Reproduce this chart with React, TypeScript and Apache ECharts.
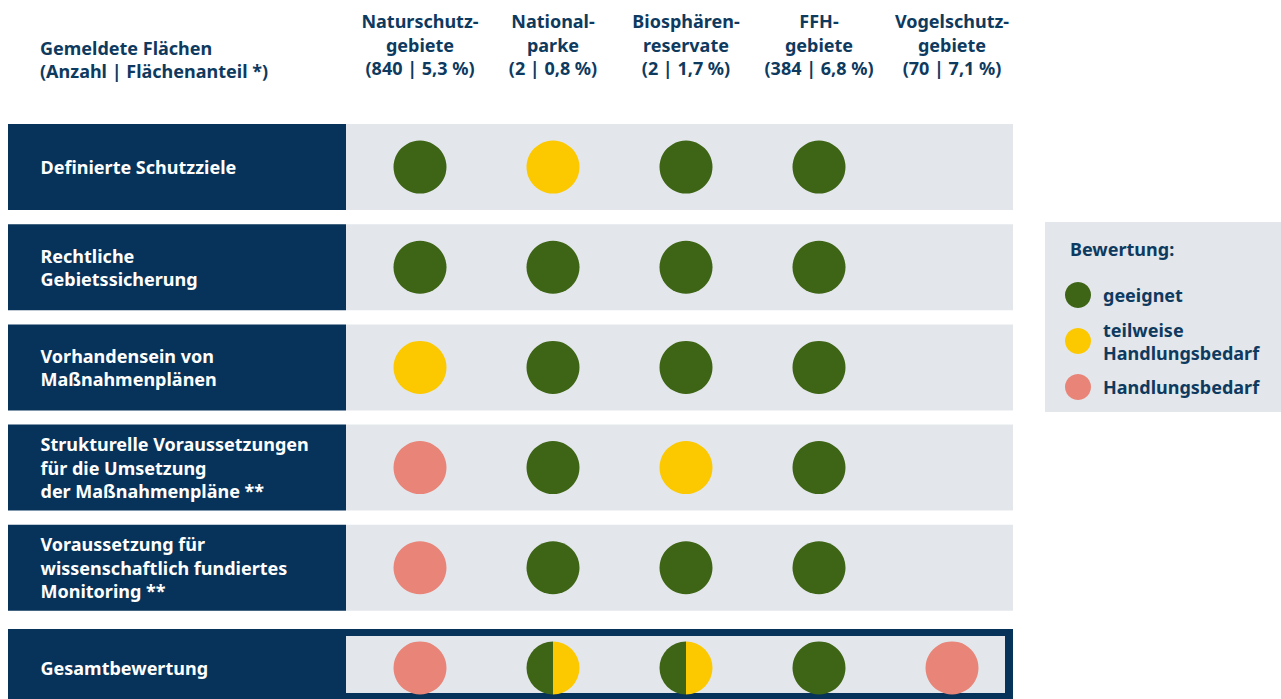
import React, { useEffect, useRef } from "react";
import * as echarts from "echarts";

// Column headers (protected-area types with count | share)
const columns = [
  "Naturschutz-\ngebiete\n(840 | 5,3 %)",
  "National-\nparke\n(2 | 0,8 %)",
  "Biosphären-\nreservate\n(2 | 1,7 %)",
  "FFH-\ngebiete\n(384 | 6,8 %)",
  "Vogelschutz-\ngebiete\n(70 | 7,1 %)",
];

// Row criteria
const criteria = [
  "Definierte Schutzziele",
  "Rechtliche\nGebietssicherung",
  "Vorhandensein von\nMaßnahmenplänen",
  "Strukturelle Voraussetzungen\nfür die Umsetzung\nder Maßnahmenpläne **",
  "Voraussetzung für\nwissenschaftlich fundiertes\nMonitoring **",
  "Gesamtbewertung",
];

const headerTitle = "Gemeldete Flächen\n(Anzahl | Flächenanteil *)";
const legendTitle = "Bewertung:";
const ratingLabels = ["geeignet", "teilweise\nHandlungsbedarf", "Handlungsbedarf"];

// Ratings per row: G = geeignet, T = teilweise Handlungsbedarf, H = Handlungsbedarf,
// GT = half geeignet / half teilweise, "" = not rated
const rowSchutzziele = ["G", "T", "G", "G", ""];
const rowSicherung = ["G", "G", "G", "G", ""];
const rowPlaene = ["T", "G", "G", "G", ""];
const rowStrukturell = ["H", "G", "T", "G", ""];
const rowMonitoring = ["H", "G", "G", "G", ""];
const rowGesamt = ["H", "GT", "GT", "G", "H"];

const ratings = [rowSchutzziele, rowSicherung, rowPlaene, rowStrukturell, rowMonitoring, rowGesamt];

const NAVY = "#07335a";
const TEXT_NAVY = "#0e3a60";
const GREY = "#e3e7eb";
const GREEN = "#3e6415";
const YELLOW = "#fcc800";
const SALMON = "#e88478";
const FONT = "'Noto Sans', sans-serif";
const FS = 18;

function pointsFor(code: string) {
  const out: number[][] = [];
  ratings.forEach((row, r) => row.forEach((v, c) => { if (v === code) out.push([c, r]); }));
  return out;
}

export default function App() {
  const ref = useRef<HTMLDivElement>(null);
  useEffect(() => {
    if (!ref.current) return;
    const chart = echarts.init(ref.current, undefined, { renderer: "svg" });
    const lastRow = criteria.length - 1;

    const option: any = {
      animation: false,
      backgroundColor: "#ffffff",
      textStyle: { fontFamily: FONT },
      grid: { left: 353.5, top: 117, width: 665, height: 601, containLabel: false },
      xAxis: {
        type: "category",
        position: "top",
        data: columns,
        axisLine: { show: false },
        axisTick: { show: false },
        splitLine: { show: false },
        axisLabel: {
          interval: 0,
          margin: 37,
          color: TEXT_NAVY,
          fontFamily: FONT,
          fontWeight: "bold",
          fontSize: FS,
          lineHeight: 23.5,
          align: "center",
        },
      },
      yAxis: {
        type: "category",
        inverse: true,
        data: criteria,
        z: 10,
        axisLine: { show: false },
        axisTick: { show: false },
        splitLine: { show: false },
        axisLabel: {
          interval: 0,
          align: "left",
          margin: 313,
          color: "#ffffff",
          fontFamily: FONT,
          fontWeight: "bold",
          fontSize: FS,
          lineHeight: 23.5,
        },
      },
      legend: {
        orient: "vertical",
        left: 1060,
        top: 277,
        icon: "circle",
        itemWidth: 40,
        itemHeight: 26,
        itemGap: 10,
        selectedMode: false,
        data: ratingLabels,
        textStyle: {
          color: TEXT_NAVY,
          fontFamily: FONT,
          fontWeight: "bold",
          fontSize: FS,
          lineHeight: 23,
        },
      },
      graphic: [
        {
          type: "text",
          left: 40,
          top: 36,
          style: {
            text: headerTitle,
            fill: TEXT_NAVY,
            font: `bold ${FS}px ${FONT}`,
            lineHeight: 23,
          },
        },
        {
          type: "rect",
          z: -1,
          shape: { x: 1045, y: 222, width: 236, height: 190 },
          style: { fill: GREY },
        },
        {
          type: "text",
          left: 1070,
          top: 240,
          style: { text: legendTitle, fill: TEXT_NAVY, font: `bold ${FS}px ${FONT}` },
        },
      ],
      series: [
        {
          type: "custom",
          name: "rows",
          z: 1,
          silent: true,
          data: criteria.map((_, i) => [0, i]),
          encode: { x: 0, y: 1 },
          renderItem: (params: any, api: any) => {
            const r = api.value(1);
            const cy = api.coord([0, r])[1];
            if (r === lastRow) {
              const top = cy - 39;
              return {
                type: "group",
                children: [
                  { type: "rect", shape: { x: 8, y: top, width: 1005, height: api.getHeight() - top }, style: { fill: NAVY } },
                  { type: "rect", shape: { x: 346, y: top + 7, width: 659, height: 57 }, style: { fill: GREY } },
                ],
              };
            }
            return {
              type: "group",
              children: [
                { type: "rect", shape: { x: 8, y: cy - 43, width: 338, height: 86 }, style: { fill: NAVY } },
                { type: "rect", shape: { x: 346, y: cy - 43, width: 667, height: 86 }, style: { fill: GREY } },
              ],
            };
          },
        },
        {
          type: "scatter",
          name: ratingLabels[0],
          z: 3,
          symbol: "circle",
          symbolSize: 53,
          itemStyle: { color: GREEN, opacity: 1 },
          data: pointsFor("G"),
        },
        {
          type: "scatter",
          name: ratingLabels[1],
          z: 3,
          symbol: "circle",
          symbolSize: 53,
          itemStyle: { color: YELLOW, opacity: 1 },
          data: pointsFor("T"),
        },
        {
          type: "scatter",
          name: ratingLabels[2],
          z: 3,
          symbol: "circle",
          symbolSize: 53,
          itemStyle: { color: SALMON, opacity: 1 },
          data: pointsFor("H"),
        },
        {
          type: "custom",
          name: "half",
          z: 3,
          data: pointsFor("GT"),
          encode: { x: 0, y: 1 },
          renderItem: (params: any, api: any) => {
            const p = api.coord([api.value(0), api.value(1)]);
            const r = 26.5;
            return {
              type: "group",
              children: [
                {
                  type: "sector",
                  shape: { cx: p[0], cy: p[1], r0: 0, r, startAngle: Math.PI / 2, endAngle: (3 * Math.PI) / 2, clockwise: true },
                  style: { fill: GREEN },
                },
                {
                  type: "sector",
                  shape: { cx: p[0], cy: p[1], r0: 0, r, startAngle: -Math.PI / 2, endAngle: Math.PI / 2, clockwise: true },
                  style: { fill: YELLOW },
                },
              ],
            };
          },
        },
      ],
    };
    chart.setOption(option);
    return () => chart.dispose();
  }, []);

  return (
    <div style={{ position: "absolute", left: 0, top: 0, width: 1281, height: 699, overflow: "hidden" }}>
      <div ref={ref} style={{ width: 1281, height: 730 }} />
    </div>
  );
}
